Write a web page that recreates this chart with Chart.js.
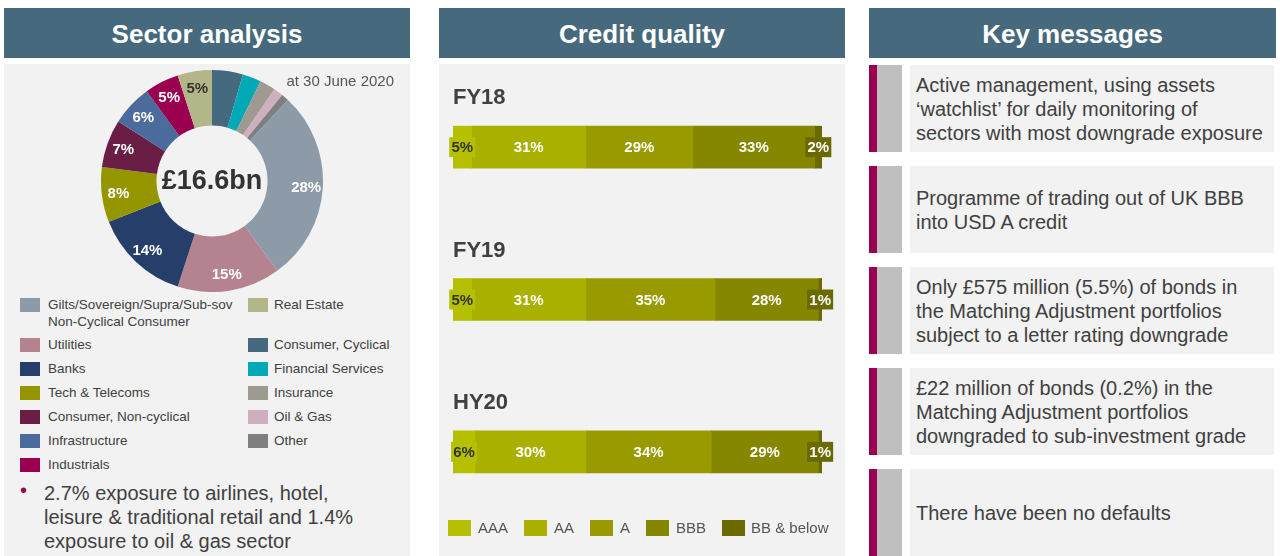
<!DOCTYPE html>
<html>
<head>
<meta charset="utf-8">
<script src="https://cdn.jsdelivr.net/npm/chart.js@4.4.1/dist/chart.umd.min.js"></script>
<style>
  html, body { margin: 0; padding: 0; background: #fff; }
  body { width: 1280px; height: 556px; position: relative; overflow: hidden;
         font-family: "Liberation Sans", Arial, sans-serif; color: #404040; }
  .hdr { position: absolute; top: 8px; height: 50px; width: 406px; background: #46697d;
         color: #fff; font-weight: bold; font-size: 26px; display: flex; box-sizing: border-box;
         padding-top: 3px; align-items: center; justify-content: center; }
  .panel { position: absolute; top: 64px; width: 406px; height: 492px; background: #f2f2f2; }
  .abs { position: absolute; }
  .sw { position: absolute; width: 20px; height: 14px; }
  .lg { position: absolute; font-size: 13.5px; line-height: 16px; white-space: nowrap; color: #404040; }
  .msg { position: absolute; left: 869px; width: 405px; height: 87px; }
  .msg .red { position: absolute; left: 0; top: 0; width: 8px; height: 100%; background: #990050; }
  .msg .grey { position: absolute; left: 8px; top: 0; width: 25px; height: 100%; background: #bfbfbf; }
  .msg .txt { position: absolute; left: 41px; top: 0; width: 358px; height: 100%; padding-left: 6px;
              background: #f2f2f2; display: flex; align-items: center; font-size: 20px;
              line-height: 24px; color: #404040; }
</style>
</head>
<body>
<div class="hdr" style="left:4px">Sector analysis</div>
<div class="hdr" style="left:439px">Credit quality</div>
<div class="hdr" style="left:869px; width:407px">Key messages</div>

<div class="panel" style="left:4px"></div>
<div class="panel" style="left:439px"></div>

<div class="abs" style="left:101px; top:70px; width:222px; height:222px;">
  <canvas id="sectorDonut"></canvas>
</div>
<div class="abs" style="right:886px; top:72px; font-size:15px; color:#555;">at 30 June 2020</div>
<div id="sectorLegend"></div>
<div class="abs" style="left:20px; top:479px; font-size:20px; color:#990050;">&bull;</div>
<div class="abs" style="left:44px; top:481px; font-size:20px; line-height:24px; color:#404040;">
  2.7% exposure to airlines, hotel,<br>leisure &amp; traditional retail and 1.4%<br>exposure to oil &amp; gas sector
</div>

<div class="abs" style="left:439px; top:64px; width:406px; height:492px;">
  <canvas id="creditBars"></canvas>
</div>
<div id="creditLegend"></div>

<div id="messages"></div>

<script>
// --- Sector analysis (doughnut, clockwise from 12 o'clock) ---
const sectorLabels = ['Consumer, Cyclical', 'Financial Services', 'Insurance', 'Oil & Gas', 'Other',
    'Gilts/Sovereign/Supra/Sub-sov', 'Utilities', 'Banks', 'Tech & Telecoms',
    'Consumer, Non-cyclical', 'Infrastructure', 'Industrials', 'Real Estate'];
const sectorShares = [4.5, 2.7, 2.3, 1.4, 1.1, 28, 15, 14, 8, 7, 6, 5, 5];
const sectorColors = ['#456a7f', '#00a9b5', '#9e9a91', '#cdafbf', '#7f7f7f',
    '#8c9ba7', '#b5828f', '#253e6a', '#959500', '#6a1e45', '#4b6b9c', '#99004f', '#b3b689'];
const sectorTotal = '£16.6bn';
const legendLeft = ['Gilts/Sovereign/Supra/Sub-sov', 'Utilities', 'Banks', 'Tech & Telecoms',
    'Consumer, Non-cyclical', 'Infrastructure', 'Industrials'];
const legendRight = ['Real Estate', 'Consumer, Cyclical', 'Financial Services', 'Insurance',
    'Oil & Gas', 'Other'];

// --- Credit quality (stacked % bars) ---
const creditYears = ['FY18', 'FY19', 'HY20'];
const ratingLabels = ['AAA', 'AA', 'A', 'BBB', 'BB & below'];
const aaaShare = [5, 5, 6];
const aaShare = [31, 31, 30];
const aShare = [29, 35, 34];
const bbbShare = [33, 28, 29];
const bbBelowShare = [2, 1, 1];
const ratingColors = ['#b5c100', '#a9b000', '#999a00', '#868700', '#6b6a00'];

// --- Key messages ---
const keyMessages = [
    'Active management, using assets<br>‘watchlist’ for daily monitoring of<br>sectors with most downgrade exposure',
    'Programme of trading out of UK BBB<br>into USD A credit',
    'Only £575 million (5.5%) of bonds in<br>the Matching Adjustment portfolios<br>subject to a letter rating downgrade',
    '£22 million of bonds (0.2%) in the<br>Matching Adjustment portfolios<br>downgraded to sub-investment grade',
    'There have been no defaults'
];

const FONT = '"Liberation Sans", Arial, sans-serif';

// legend for the doughnut
(function () {
    const host = document.getElementById('sectorLegend');
    const rowY = [305, 345, 369, 393, 417, 441, 465];
    let html = '';
    const add = (name, col, i) => {
        const c = sectorColors[sectorLabels.indexOf(name)];
        const sx = col ? 248 : 20, tx = col ? 274 : 48;
        html += `<div class="sw" style="left:${sx}px; top:${rowY[i] - 7}px; background:${c}"></div>`;
        html += `<div class="lg" style="left:${tx}px; top:${rowY[i] - 8}px">${name.replace('&', '&amp;')}</div>`;
    };
    legendLeft.forEach((n, i) => add(n, 0, i));
    legendRight.forEach((n, i) => add(n, 1, i));
    html += `<div class="lg" style="left:48px; top:314px">Non-Cyclical Consumer</div>`;
    host.innerHTML = html;
})();

// legend for credit bars
(function () {
    const host = document.getElementById('creditLegend');
    const swX = [448, 524, 590, 646, 722];
    const txX = [478, 554, 620, 676, 751];
    host.innerHTML = ratingLabels.map((r, i) =>
        `<div class="abs" style="left:${swX[i]}px; top:520px; width:23px; height:16px; background:${ratingColors[i]}"></div>` +
        `<div class="abs" style="left:${txX[i]}px; top:519px; font-size:15px; line-height:18px; color:#555">${r.replace('&', '&amp;')}</div>`
    ).join('');
})();

// key message boxes
(function () {
    const host = document.getElementById('messages');
    const tops = [65, 166, 267, 368, 469];
    host.innerHTML = keyMessages.map((m, i) =>
        `<div class="msg" style="top:${tops[i]}px"><div class="red"></div><div class="grey"></div><div class="txt"><div>${m}</div></div></div>`
    ).join('');
})();

const donutLabelPlugin = {
    id: 'donutLabels',
    afterDatasetsDraw(chart) {
        const ctx = chart.ctx;
        const meta = chart.getDatasetMeta(0);
        ctx.save();
        ctx.textAlign = 'center';
        ctx.textBaseline = 'middle';
        ctx.font = 'bold 15px ' + FONT;
        let cx = 0, cy = 0;
        meta.data.forEach((arc, i) => {
            const p = arc.getProps(['x', 'y', 'startAngle', 'endAngle', 'innerRadius', 'outerRadius'], true);
            cx = p.x; cy = p.y;
            const v = sectorShares[i];
            if (v < 5) return;
            const mid = (p.startAngle + p.endAngle) / 2;
            const r = p.innerRadius + (p.outerRadius - p.innerRadius) * 0.7;
            ctx.fillStyle = sectorLabels[i] === 'Real Estate' ? '#333' : '#fff';
            ctx.fillText(Math.round(v) + '%', p.x + Math.cos(mid) * r, p.y + Math.sin(mid) * r + 1);
        });
        ctx.font = 'bold 27px ' + FONT;
        ctx.fillStyle = '#333';
        ctx.fillText(sectorTotal, cx, cy + 1);
        ctx.restore();
    }
};

new Chart(document.getElementById('sectorDonut'), {
    type: 'doughnut',
    data: {
        labels: sectorLabels,
        datasets: [{ data: sectorShares, backgroundColor: sectorColors, borderWidth: 0 }]
    },
    options: {
        responsive: true,
        maintainAspectRatio: false,
        animation: false,
        cutout: '50%',
        layout: { padding: 0 },
        plugins: { legend: { display: false }, tooltip: { enabled: false } }
    },
    plugins: [donutLabelPlugin]
});

const barLabelPlugin = {
    id: 'barLabels',
    afterDatasetsDraw(chart) {
        const ctx = chart.ctx;
        ctx.save();
        ctx.textAlign = 'center';
        ctx.textBaseline = 'middle';
        ctx.font = 'bold 15px ' + FONT;
        chart.data.datasets.forEach((ds, di) => {
            chart.getDatasetMeta(di).data.forEach((bar, j) => {
                const p = bar.getProps(['x', 'y', 'base'], true);
                const mx = (p.x + p.base) / 2;
                const v = ds.data[j];
                if (v < 10) {
                    ctx.fillStyle = ds.backgroundColor;
                    ctx.fillRect(mx - 13, p.y - 10, 26, 20);
                    ctx.fillStyle = di === 0 ? '#333' : '#fff';
                } else {
                    ctx.fillStyle = '#fff';
                }
                ctx.fillText(v + '%', mx, p.y + 1);
            });
        });
        const ys = chart.scales.y;
        ctx.textAlign = 'left';
        ctx.font = 'bold 22px ' + FONT;
        ctx.fillStyle = '#404040';
        creditYears.forEach((yr, j) => {
            ctx.fillText(yr, chart.chartArea.left, ys.getPixelForValue(j) - 49);
        });
        ctx.restore();
    }
};

const creditSeries = [aaaShare, aaShare, aShare, bbbShare, bbBelowShare];

new Chart(document.getElementById('creditBars'), {
    type: 'bar',
    data: {
        labels: creditYears,
        datasets: creditSeries.map((d, i) => ({
            label: ratingLabels[i],
            data: d,
            backgroundColor: ratingColors[i],
            borderWidth: 0,
            barThickness: 42
        }))
    },
    options: {
        indexAxis: 'y',
        responsive: true,
        maintainAspectRatio: false,
        animation: false,
        layout: { padding: { left: 14, right: 23, top: 7, bottom: 28 } },
        scales: {
            x: { stacked: true, min: 0, max: 100, display: false },
            y: { stacked: true, display: false }
        },
        plugins: { legend: { display: false }, tooltip: { enabled: false } }
    },
    plugins: [barLabelPlugin]
});
</script>
</body>
</html>
